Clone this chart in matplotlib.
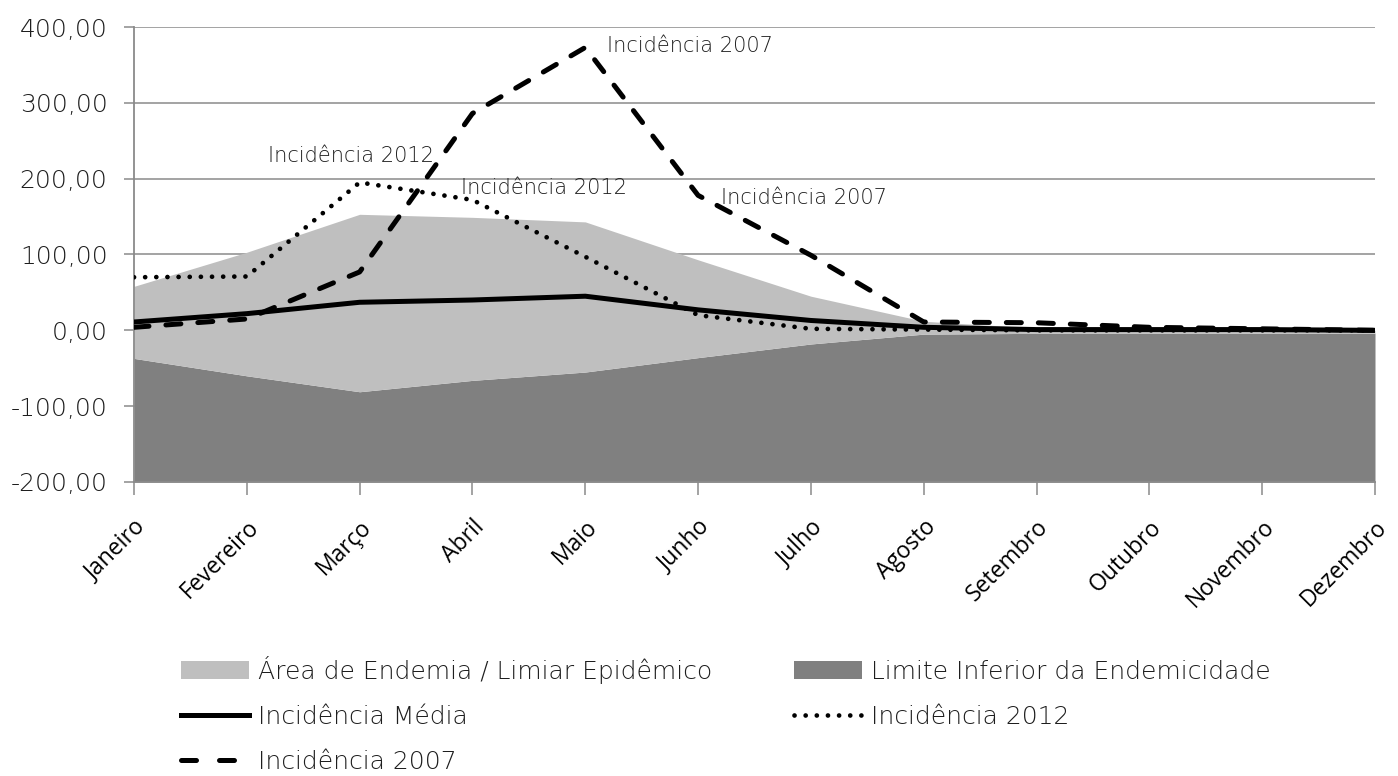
import numpy as np
import matplotlib
matplotlib.use('Agg')
import matplotlib.pyplot as plt
from matplotlib.patches import Patch
from matplotlib.lines import Line2D

meses = ['Janeiro', 'Fevereiro', 'Março', 'Abril', 'Maio', 'Junho',
         'Julho', 'Agosto', 'Setembro', 'Outubro', 'Novembro', 'Dezembro']

# canal endêmico (limites) e incidências por mês
limite_inferior = [-37, -60, -81, -66, -55, -36, -18, -5, -4, -4, -4, -4]
limiar_epidemico = [58, 103, 153, 149, 143, 93, 45, 12, 3, 1, 1, 0]
incidencia_media = [11, 22, 37, 40, 45, 27, 13, 4, 1, 1, 1, 0]
incidencia_2012 = [70, 71, 195, 172, 97, 20, 2, 1, 0, 0, 0, 0]
incidencia_2007 = [4, 15, 77, 286, 373, 178, 99, 11, 10, 4, 2, 0]

y_ticks = [-200, -100, 0, 100, 200, 300, 400]

FONT = ['DejaVu Sans']
THIN = 200
TXT = '#1e1e1e'
GRID = '#8a8a8a'
DASH = (0, (3.0, 3.4))
DOT = (0, (0.01, 2.35))

fig = plt.figure(figsize=(13.98, 7.76), dpi=100)
ax = fig.add_axes([134 / 1398, 1 - 482 / 776, (1375 - 134) / 1398, (482 - 27) / 776])

x = np.arange(len(meses))
ymin = y_ticks[0]

ax.fill_between(x, ymin, limite_inferior, color='#808080', lw=0, zorder=2)
ax.fill_between(x, limite_inferior, limiar_epidemico, color='#bfbfbf', lw=0, zorder=2)

ax.plot(x, incidencia_media, color='black', lw=3.6, solid_joinstyle='round', zorder=4)
ax.plot(x, incidencia_2012, color='black', lw=3.4, linestyle=DOT,
        dash_capstyle='round', zorder=5)
ax.plot(x, incidencia_2007, color='black', lw=3.6, linestyle=DASH,
        dash_capstyle='round', zorder=6)

# rótulos das séries
lab = dict(fontsize=15, family=FONT, fontweight=THIN, color=TXT,
           textcoords='offset pixels', va='center', zorder=7)
ax.annotate('Incidência 2012', (2, incidencia_2012[2]), xytext=(-9, 26), ha='center', **lab)
ax.annotate('Incidência 2012', (3, incidencia_2012[3]), xytext=(-11, 12), ha='left', **lab)
ax.annotate('Incidência 2007', (4, incidencia_2007[4]), xytext=(22, 1), ha='left', **lab)
ax.annotate('Incidência 2007', (5, incidencia_2007[5]), xytext=(23, -3), ha='left', **lab)

ax.set_xlim(0, len(meses) - 1)
ax.set_ylim(y_ticks[0], y_ticks[-1])
ax.set_yticks(y_ticks)
ax.set_yticklabels([f'{v:.2f}'.replace('.', ',') for v in y_ticks],
                   fontsize=18, family=FONT, fontweight=THIN, color=TXT)
ax.set_xticks(x)
ax.set_xticklabels(meses, rotation=45, ha='right', rotation_mode='anchor',
                   fontsize=16.5, family=['Open Sans', 'DejaVu Sans'], color='black')

ax.grid(axis='y', color=GRID, lw=1.1)
ax.set_axisbelow(True)
for side in ('top', 'right'):
    ax.spines[side].set_visible(False)
for side in ('left', 'bottom'):
    ax.spines[side].set_color(GRID)
    ax.spines[side].set_linewidth(1.3)
ax.tick_params(axis='y', length=7, width=1.1, color=GRID, pad=12)
ax.tick_params(axis='x', length=9, width=1.1, color=GRID, pad=15)

handles = [
    Patch(facecolor='#bfbfbf', edgecolor='none', label='Área de Endemia / Limiar Epidêmico'),
    Line2D([], [], color='black', lw=3.6, label='Incidência Média'),
    Line2D([], [], color='black', lw=3.6, linestyle=(0, (3.0, 4.6)),
           dash_capstyle='round', label='Incidência 2007'),
    Patch(facecolor='#808080', edgecolor='none', label='Limite Inferior da Endemicidade'),
    Line2D([], [], color='black', lw=3.4, linestyle=DOT,
           dash_capstyle='round', label='Incidência 2012'),
]
leg = fig.legend(handles=handles, ncol=2, loc='upper left', frameon=False,
                 bbox_to_anchor=(181 / 1398, 1 - 656 / 776), borderpad=0, borderaxespad=0,
                 handlelength=2.7, handleheight=0.72, handletextpad=0.36,
                 labelspacing=0.84, columnspacing=3.3,
                 prop={'family': FONT, 'weight': THIN, 'size': 18})
for t in leg.get_texts():
    t.set_color(TXT)

fig.savefig('out.png', dpi=100)
